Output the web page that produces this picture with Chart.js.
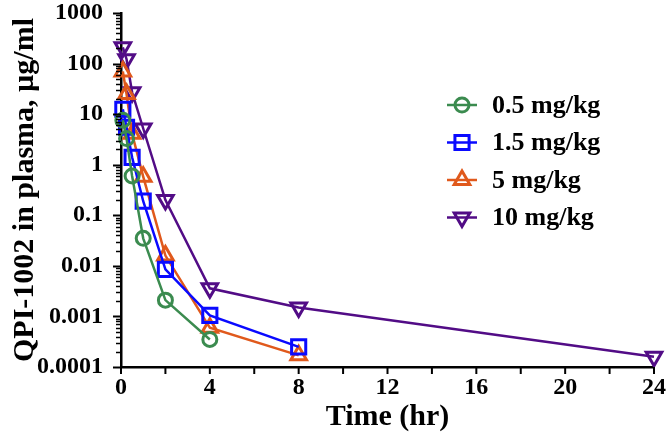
<!DOCTYPE html>
<html>
<head>
<meta charset="utf-8">
<script src="https://cdn.jsdelivr.net/npm/chart.js@4.4.0/dist/chart.umd.min.js"></script>
<style>
  body { margin: 0; background: #fff; }
</style>
</head>
<body>
<canvas id="mychart" width="667" height="442"></canvas>
<script>
// sampling times (hr)
const times = [0.083, 0.25, 0.5, 1, 2, 4, 8, 24];

const doseLabels = ['0.5 mg/kg', '1.5 mg/kg', '5 mg/kg', '10 mg/kg'];

// plasma conc (ug/ml), null = not measured
const dose05 = [7.6, 3.3, 0.6, 0.035, 0.0021, 0.00035, null, null];
const dose15 = [12.5, 5.5, 1.4, 0.19, 0.0085, 0.00105, 0.00025, null];
const dose5  = [70, 25, 4.1, 0.58, 0.016, 0.0006, 0.00017, null];
const dose10 = [210, 122, 27, 5.2, 0.2, 0.0036, 0.0015, 0.00016];

const yTickLabels = ['1000', '100', '10', '1', '0.1', '0.01', '0.001', '0.0001'];
const xTickLabels = [0, 4, 8, 12, 16, 20, 24];

const FONT = "'Liberation Serif', 'Times New Roman', serif";

function pts(vals) {
    return times.map((t, i) => ({ x: t, y: vals[i] })).filter(p => p.y !== null);
}

function series(label, vals, color, style, radius, rotation) {
    return {
        label: label,
        data: pts(vals),
        borderColor: color,
        backgroundColor: 'transparent',
        borderWidth: 2.5,
        pointStyle: style,
        pointRadius: radius,
        pointHoverRadius: radius,
        pointRotation: rotation || 0,
        pointBorderWidth: 3,
        pointBackgroundColor: 'transparent',
        pointBorderColor: color,
        tension: 0,
        clip: false
    };
}

const data = {
    datasets: [
        series(doseLabels[0], dose05, '#3b8b4f', 'circle', 7),
        series(doseLabels[1], dose15, '#0a0aff', 'rect', 10),
        series(doseLabels[2], dose5, '#e0591c', 'triangle', 9),
        series(doseLabels[3], dose10, '#520c86', 'triangle', 9, 180)
    ]
};

function isPow10(v) {
    const l = Math.log10(v);
    return Math.abs(l - Math.round(l)) < 1e-9;
}

function drawMarker(ctx, style, x, y, r, rotDeg) {
    ctx.beginPath();
    if (style === 'circle') {
        ctx.arc(x, y, r, 0, Math.PI * 2);
    } else if (style === 'rect') {
        const s = r * Math.SQRT1_2;
        ctx.rect(x - s, y - s, 2 * s, 2 * s);
    } else {
        let rad = (rotDeg || 0) * Math.PI / 180;
        ctx.moveTo(x + Math.sin(rad) * r, y - Math.cos(rad) * r);
        rad += 2 * Math.PI / 3;
        ctx.lineTo(x + Math.sin(rad) * r, y - Math.cos(rad) * r);
        rad += 2 * Math.PI / 3;
        ctx.lineTo(x + Math.sin(rad) * r, y - Math.cos(rad) * r);
        ctx.closePath();
    }
    ctx.stroke();
}

// axis tick marks (major/minor) drawn outside the plot
const axisTicks = {
    id: 'axisTicks',
    afterDraw(chart) {
        const ctx = chart.ctx;
        const xs = chart.scales.x, ys = chart.scales.y;
        ctx.save();
        ctx.strokeStyle = '#000';
        ys.ticks.forEach(t => {
            const v = t.value;
            const sig = v / Math.pow(10, Math.floor(Math.log10(v) + 1e-9));
            if (Math.abs(sig - Math.round(sig)) > 1e-6) return;
            const y = Math.round(ys.getPixelForValue(v)) + 0.5;
            const major = isPow10(v);
            ctx.lineWidth = major ? 2 : 1.5;
            ctx.beginPath();
            ctx.moveTo(ys.right, y);
            ctx.lineTo(ys.right - (major ? 8 : 5), y);
            ctx.stroke();
        });
        ctx.lineWidth = 2;
        xs.ticks.forEach(t => {
            const x = xs.getPixelForValue(t.value);
            ctx.beginPath();
            ctx.moveTo(x, xs.top);
            ctx.lineTo(x, xs.top + 7);
            ctx.stroke();
        });
        ctx.restore();
    }
};

// legend drawn inside the plot
const insideLegend = {
    id: 'insideLegend',
    afterDraw(chart) {
        const ctx = chart.ctx;
        const x0 = 447, x1 = 477, tx = 492, y0 = 105, dy = 37.5;
        ctx.save();
        ctx.font = "bold 26px " + FONT;
        ctx.textBaseline = 'middle';
        ctx.fillStyle = '#000';
        chart.data.datasets.forEach((ds, i) => {
            const y = y0 + i * dy;
            ctx.strokeStyle = ds.borderColor;
            ctx.lineWidth = ds.borderWidth;
            ctx.beginPath();
            ctx.moveTo(x0, y);
            ctx.lineTo(x1, y);
            ctx.stroke();
            ctx.lineWidth = ds.pointBorderWidth;
            drawMarker(ctx, ds.pointStyle, (x0 + x1) / 2, y, ds.pointRadius, ds.pointRotation);
            ctx.fillText(ds.label, tx, y + 1);
        });
        ctx.restore();
    }
};

new Chart(document.getElementById('mychart'), {
    type: 'line',
    data: data,
    plugins: [axisTicks, insideLegend],
    options: {
        responsive: false,
        animation: false,
        devicePixelRatio: 1,
        layout: { padding: { top: 13, right: 13, left: 0, bottom: 0 } },
        plugins: {
            legend: { display: false },
            tooltip: { enabled: false }
        },
        scales: {
            x: {
                type: 'linear',
                min: 0,
                max: 24,
                afterFit(scale) { scale.height = 75; },
                grid: { display: false },
                border: { display: true, color: '#000', width: 2.5 },
                ticks: {
                    stepSize: 2,
                    autoSkip: false,
                    maxRotation: 0,
                    padding: -2,
                    color: '#000',
                    font: { family: FONT, size: 24, weight: 'bold' },
                    callback: v => xTickLabels.includes(v) ? String(v) : ''
                },
                title: {
                    display: true,
                    text: 'Time (hr)',
                    color: '#000',
                    font: { family: FONT, size: 30, weight: 'bold' },
                    padding: { top: 0, bottom: 7 }
                }
            },
            y: {
                type: 'logarithmic',
                min: 0.0001,
                max: 1000,
                afterFit(scale) {
                    scale.width = 121;
                    scale.paddingTop = 0;
                    scale.paddingBottom = 0;
                },
                grid: { display: false },
                border: { display: true, color: '#000', width: 2.5 },
                ticks: {
                    autoSkip: false,
                    padding: 10,
                    color: '#000',
                    font: { family: FONT, size: 24, weight: 'bold' },
                    callback: v => {
                        if (!isPow10(v)) return '';
                        const s = yTickLabels.find(l => Math.abs(parseFloat(l) - v) < v * 1e-6);
                        return s || '';
                    }
                },
                title: {
                    display: true,
                    text: 'QPI-1002 in plasma, µg/ml',
                    color: '#000',
                    font: { family: FONT, size: 30, weight: 'bold' },
                    padding: { top: 7, bottom: 0 }
                }
            }
        }
    }
});
</script>
</body>
</html>
